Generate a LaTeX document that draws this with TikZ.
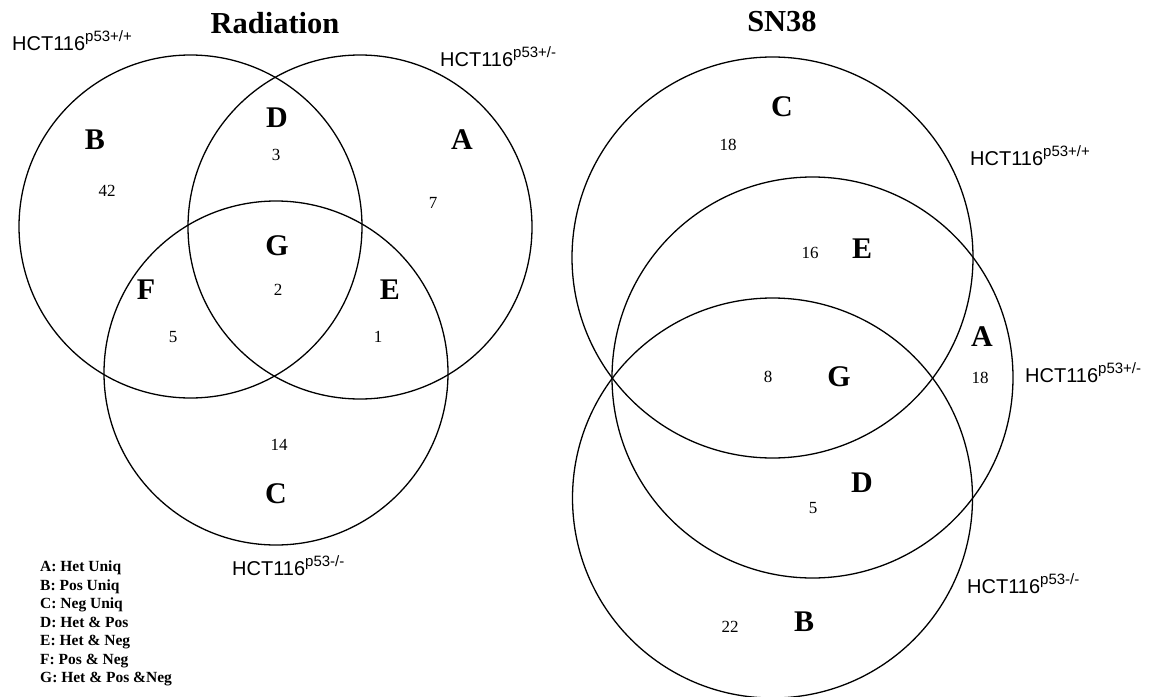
\documentclass[tikz,border=0pt]{standalone}
\usepackage{fontspec}
\setmainfont{Liberation Serif}
\newfontfamily\arialfont{Liberation Sans}
\usetikzlibrary{positioning}
\newcommand{\hctlabel}[1]{{\arialfont\fontsize{20}{20}\selectfont HCT116\raisebox{9pt}{\fontsize{15}{15}\selectfont p53#1}}}

\begin{document}
\begin{tikzpicture}[x=1pt,y=-1pt,
    venn/.style={draw,circle,line width=1.3pt,inner sep=0pt},
    region/.style={font=\fontsize{30}{30}\selectfont\bfseries,inner sep=0pt},
    count/.style={font=\fontsize{17}{17}\selectfont,inner sep=0pt},
    strain/.style={anchor=base west,inner sep=0pt},
    heading/.style={font=\fontsize{30.5}{30.5}\selectfont\bfseries,inner sep=0pt}]
    \useasboundingbox (0,0) rectangle (1151,696);
    % Radiation
    \node[heading] (radtitle) at (275,23) {Radiation};
    \node[venn,minimum size=343pt] (rpos) at (190.5,226.5) {};
    \node[venn,minimum size=344pt] (rhet) at (360,227) {};
    \node[venn,minimum size=344pt] (rneg) at (276,373) {};
    \node[strain] (rposlab) at (12,50) {\hctlabel{+/+}};
    \node[strain] (rhetlab) at (440,66) {\hctlabel{+/-}};
    \node[strain] (rneglab) at (232,575) {\hctlabel{-/-}};
    \node[region] (rB) at (95,140) {B};
    \node[count] (rBn) at (107,191) {42};
    \node[region] (rD) at (277,118) {D};
    \node[count] (rDn) at (276,155) {3};
    \node[region] (rA) at (462,140) {A};
    \node[count] (rAn) at (433,203) {7};
    \node[region] (rG) at (277,246) {G};
    \node[count] (rGn) at (278,290) {2};
    \node[region] (rF) at (146,290) {F};
    \node[count] (rFn) at (173,337) {5};
    \node[region] (rE) at (390,290) {E};
    \node[count] (rEn) at (378,337) {1};
    \node[count] (rCn) at (279,445) {14};
    \node[region] (rC) at (276,494) {C};
    \node[anchor=north west,inner sep=0pt,align=left,font=\fontsize{15.5}{18.5}\selectfont\bfseries] (legend) at (40,561)
      {A: Het Uniq\\B: Pos Uniq\\C: Neg Uniq\\D: Het \& Pos\\E: Het \& Neg\\F: Pos \& Neg\\G: Het \& Pos \&Neg};
    % SN38
    \node[heading] (sntitle) at (782,22) {SN38};
    \node[venn,minimum size=401pt] (spos) at (772.5,257.5) {};
    \node[venn,minimum size=401pt] (shet) at (812.5,377.5) {};
    \node[venn,minimum size=400pt] (sneg) at (772.5,498) {};
    \node[strain] (sposlab) at (970,165) {\hctlabel{+/+}};
    \node[strain] (shetlab) at (1025,382) {\hctlabel{+/-}};
    \node[strain] (sneglab) at (967,593) {\hctlabel{-/-}};
    \node[region] (sC) at (782,107) {C};
    \node[count] (sCn) at (728,145) {18};
    \node[count] (sEn) at (810,253) {16};
    \node[region] (sE) at (862,249) {E};
    \node[count] (sGn) at (768,377) {8};
    \node[region] (sG) at (839,377) {G};
    \node[region] (sA) at (982,337) {A};
    \node[count] (sAn) at (980,378) {18};
    \node[region] (sD) at (862,483) {D};
    \node[count] (sDn) at (813,508) {5};
    \node[count] (sBn) at (730,627) {22};
    \node[region] (sB) at (804,622) {B};
\end{tikzpicture}
\end{document}
